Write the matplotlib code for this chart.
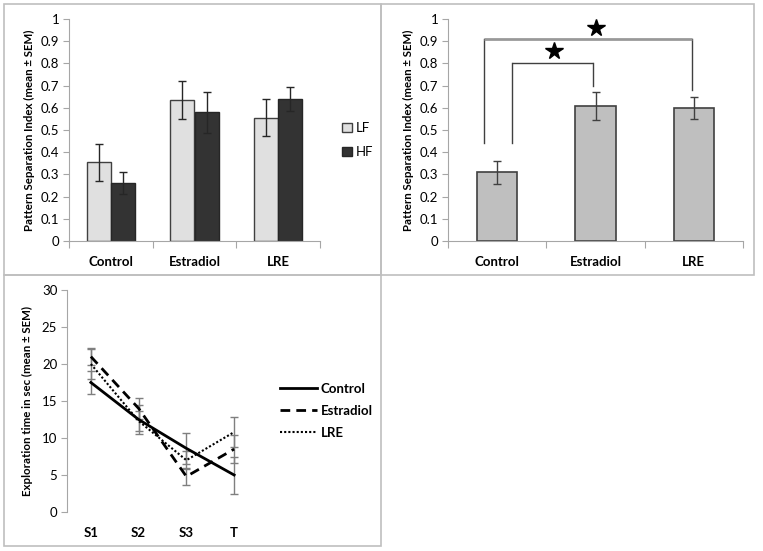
import numpy as np
import matplotlib

matplotlib.use("Agg")
import matplotlib.pyplot as plt
from matplotlib.patches import Rectangle

plt.rcParams["font.family"] = ["Lato", "DejaVu Sans"]

# ---------------------------------------------------------------- data
groups = ["Control", "Estradiol", "LRE"]
lf_mean = [0.354, 0.635, 0.555]
lf_sem = [0.085, 0.085, 0.083]
hf_mean = [0.260, 0.580, 0.640]
hf_sem = [0.050, 0.093, 0.055]

pooled_mean = [0.309, 0.607, 0.598]
pooled_sem = [0.050, 0.062, 0.050]

sessions = ["S1", "S2", "S3", "T"]
ctrl_time = [17.5, 12.5, 8.6, 5.0]
ctrl_sem = [1.5, 2.0, 2.1, 2.5]
estr_time = [21.0, 14.0, 4.8, 8.5]
estr_sem = [1.2, 1.4, 1.1, 1.9]
lre_time = [20.0, 12.3, 7.0, 10.8]
lre_sem = [2.0, 1.3, 1.2, 2.0]

W, H = 763, 551
GRID = "#a6a6a6"
TICK_FS = 9.5
YLAB_FS = 8.3


def style_axes(ax):
    for s in ["top", "right"]:
        ax.spines[s].set_visible(False)
    ax.spines["left"].set_color(GRID)
    ax.spines["bottom"].set_color(GRID)
    ax.tick_params(axis="y", colors=GRID, labelcolor="black", length=4,
                   labelsize=TICK_FS, pad=3)


def category_axis(ax, labels):
    n = len(labels)
    ax.set_xlim(-0.5, n - 0.5)
    ax.set_xticks(np.arange(-0.5, n, 1.0))
    ax.set_xticklabels([])
    ax.tick_params(axis="x", which="major", colors=GRID, length=5)
    ax.set_xticks(np.arange(n), minor=True)
    ax.set_xticklabels(labels, minor=True, fontweight="bold", fontsize=TICK_FS)
    ax.tick_params(axis="x", which="minor", length=0, pad=11)


def ax_rect(x0, x1, y_top, y_bot):
    return [x0 / W, 1 - y_bot / H, (x1 - x0) / W, (y_bot - y_top) / H]


fig = plt.figure(figsize=(W / 100, H / 100), dpi=100)

# panel frames
for (x0, y0, x1, y1) in [(4, 4, 381, 275), (381, 4, 754, 275), (4, 275, 381, 546)]:
    fig.add_artist(Rectangle((x0 / W, 1 - y1 / H), (x1 - x0) / W, (y1 - y0) / H,
                             transform=fig.transFigure, fill=False,
                             edgecolor="#bfbfbf", lw=1.2))

# ---------------------------------------------------- top-left: LF / HF
ax1 = fig.add_axes(ax_rect(69, 320, 19, 241))
x = np.arange(len(groups))
bw = 0.29
err_kw = dict(ecolor="#262626", elinewidth=1.0, capsize=3, capthick=1.0)
ax1.bar(x - bw / 2, lf_mean, bw, yerr=lf_sem, color="#e0e0e0",
        edgecolor="#404040", lw=1.0, error_kw=err_kw, label="LF")
ax1.bar(x + bw / 2, hf_mean, bw, yerr=hf_sem, color="#333333",
        edgecolor="#262626", lw=1.0, error_kw=err_kw, label="HF")
ax1.set_ylim(0, 1)
ax1.set_yticks(np.arange(0, 1.01, 0.1))
ax1.set_yticklabels(["0", "0.1", "0.2", "0.3", "0.4", "0.5", "0.6", "0.7",
                     "0.8", "0.9", "1"])
style_axes(ax1)
category_axis(ax1, groups)
ax1.set_ylabel("Pattern Separation Index (mean \u00b1 SEM)", fontsize=YLAB_FS,
               fontweight="bold", labelpad=4)
ax1.legend(loc="center left", bbox_to_anchor=(330 / W, 1 - 140 / H),
           bbox_transform=fig.transFigure, frameon=False,
           fontsize=TICK_FS, handlelength=0.75, handleheight=0.75,
           handletextpad=0.3, labelspacing=0.9)

# ---------------------------------------------------- top-right: pooled
ax2 = fig.add_axes(ax_rect(448, 743, 19, 241))
ax2.bar(x, pooled_mean, 0.41, yerr=pooled_sem, color="#bfbfbf",
        edgecolor="#404040", lw=1.2,
        error_kw=dict(ecolor="#404040", elinewidth=1.0, capsize=3, capthick=1.0))
ax2.set_ylim(0, 1)
ax2.set_yticks(np.arange(0, 1.01, 0.1))
ax2.set_yticklabels(["0", "0.1", "0.2", "0.3", "0.4", "0.5", "0.6", "0.7",
                     "0.8", "0.9", "1"])
style_axes(ax2)
category_axis(ax2, groups)
ax2.set_ylabel("Pattern Separation Index (mean \u00b1 SEM)", fontsize=YLAB_FS,
               fontweight="bold", labelpad=4)

# significance brackets: (x_left, x_right, y_start_left, y_start_right, y_top)
brackets = [(-0.136, 1.98, 0.44, 0.68, 0.91, "#999999", 2.0),
            (0.152, 0.97, 0.44, 0.70, 0.80, "#404040", 1.0)]
for xl, xr, yl, yr, yt, col, lw_top in brackets:
    ax2.plot([xl, xl], [yl, yt], color="#404040", lw=1.0)
    ax2.plot([xr, xr], [yr, yt], color="#404040", lw=1.0)
    ax2.plot([xl, xr], [yt, yt], color=col, lw=lw_top, solid_capstyle="butt")
star_x = [1.01, 0.58]
star_y = [0.96, 0.855]
ax2.plot(star_x, star_y, ls="none", marker="*", ms=13, color="black")

# ---------------------------------------------------- bottom: exploration
ax3 = fig.add_axes(ax_rect(67, 258, 290, 512))
xs = np.arange(len(sessions))
series = [
    (ctrl_time, ctrl_sem, "Control", "-", 2.0),
    (estr_time, estr_sem, "Estradiol", (0, (3.5, 2.2)), 2.0),
    (lre_time, lre_sem, "LRE", (0, (1, 1)), 1.5),
]
handles = []
for vals, sem, lab, ls, lw in series:
    cont = ax3.errorbar(xs, vals, yerr=sem, color="black", lw=lw, ls=ls,
                        ecolor="#7f7f7f", elinewidth=1.0, capsize=3, label=lab)
    handles.append(cont.lines[0])
ax3.set_ylim(0, 30)
ax3.set_yticks(np.arange(0, 31, 5))
ax3.set_xlim(-0.5, len(sessions) - 0.5)
ax3.set_xticks(xs)
ax3.set_xticklabels(sessions, fontweight="bold", fontsize=TICK_FS)
style_axes(ax3)
ax3.spines["bottom"].set_visible(False)
ax3.tick_params(axis="x", length=0, pad=11)
ax3.set_ylabel("Exploration time in sec (mean \u00b1 SEM)", fontsize=YLAB_FS,
               fontweight="bold", labelpad=6)
ax3.legend(handles=handles, labels=[s[2] for s in series],
           loc="center left", bbox_to_anchor=(268 / W, 1 - 411 / H),
           bbox_transform=fig.transFigure, frameon=False,
           prop=dict(size=TICK_FS, weight="bold"),
           handlelength=2.8, handletextpad=0.3, labelspacing=0.75)

fig.savefig("out.png", dpi=100)
